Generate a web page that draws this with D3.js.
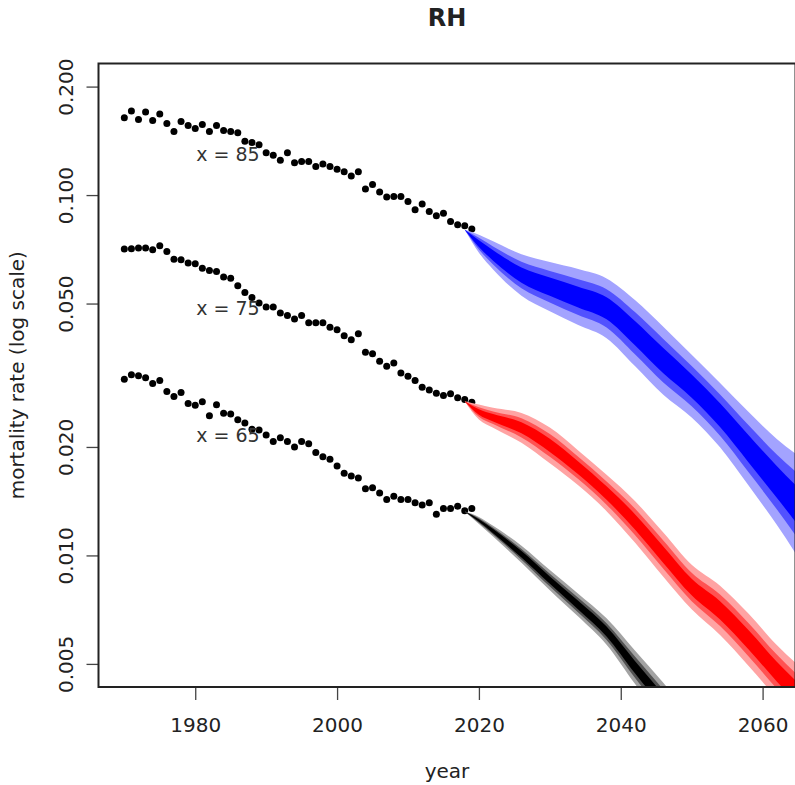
<!DOCTYPE html>
<html>
<head>
<meta charset="utf-8">
<title>RH</title>
<script src="https://cdn.jsdelivr.net/npm/d3@7"></script>
<style>
  body { margin: 0; background: #fff; }
  text { font-family: "DejaVu Sans", sans-serif; fill: #222; }
  .tick line { stroke: #444; stroke-width: 1.3px; }
</style>
</head>
<body>
<div id="chart"></div>
<script>
// observed years 1970..2019
var years = d3.range(1970, 2020);

var rate65 = [0.0308, 0.0317, 0.0315, 0.0311, 0.0300, 0.0306, 0.0285, 0.0276, 0.0283, 0.0264,
  0.0261, 0.0267, 0.0244, 0.0262, 0.0248, 0.0247, 0.0238, 0.0233, 0.0224, 0.0223,
  0.0216, 0.0207, 0.0212, 0.0207, 0.0200, 0.0207, 0.0204, 0.0193, 0.0188, 0.0185,
  0.0177, 0.0169, 0.0166, 0.0164, 0.0153, 0.0154, 0.0149, 0.0143, 0.0146, 0.0143,
  0.0143, 0.0140, 0.0138, 0.0140, 0.0130, 0.0135, 0.0135, 0.0137, 0.0133, 0.0135];

var rate75 = [0.0708, 0.0710, 0.0713, 0.0713, 0.0705, 0.0723, 0.0697, 0.0664, 0.0661, 0.0648,
  0.0645, 0.0627, 0.0618, 0.0614, 0.0592, 0.0588, 0.0560, 0.0537, 0.0520, 0.0502,
  0.0489, 0.0489, 0.0471, 0.0463, 0.0453, 0.0463, 0.0442, 0.0442, 0.0442, 0.0430,
  0.0423, 0.0407, 0.0397, 0.0412, 0.0366, 0.0363, 0.0346, 0.0335, 0.0342, 0.0321,
  0.0314, 0.0306, 0.0293, 0.0288, 0.0282, 0.0278, 0.0281, 0.0274, 0.0271, 0.0266];

var rate85 = [0.164, 0.171, 0.162, 0.170, 0.161, 0.168, 0.158, 0.150, 0.160, 0.156,
  0.153, 0.157, 0.150, 0.156, 0.151, 0.150, 0.149, 0.141, 0.140, 0.138,
  0.131, 0.129, 0.125, 0.131, 0.123, 0.124, 0.124, 0.120, 0.122, 0.120,
  0.118, 0.116, 0.113, 0.116, 0.104, 0.107, 0.102, 0.0987, 0.0991, 0.0991,
  0.0960, 0.0910, 0.0944, 0.0901, 0.0876, 0.0891, 0.0845, 0.0827, 0.0822, 0.0805];

// forecast fans: median and multiplicative spread of the 95/80/50% bands
var fanYears = [2018, 2020, 2022, 2026, 2030, 2034, 2038, 2042, 2046, 2050, 2054, 2058, 2062, 2066];

var blueMid = [0.0801, 0.0733, 0.0680, 0.0600, 0.0557, 0.0521, 0.0485, 0.0414, 0.0347, 0.0295, 0.0245, 0.0198, 0.0160, 0.0130];
var blue95 = [1, 1.059, 1.094, 1.141, 1.170, 1.196, 1.210, 1.235, 1.243, 1.222, 1.228, 1.265, 1.316, 1.412];
var blue80 = [1, 1.038, 1.059, 1.088, 1.106, 1.121, 1.130, 1.144, 1.149, 1.137, 1.141, 1.162, 1.192, 1.247];
var blue50 = [1, 1.022, 1.034, 1.050, 1.060, 1.068, 1.073, 1.081, 1.084, 1.077, 1.079, 1.091, 1.107, 1.136];

var redMid = [0.0268, 0.0250, 0.0241, 0.0226, 0.0202, 0.0175, 0.0149, 0.0124, 0.01005, 0.00817, 0.00704, 0.00584, 0.00476, 0.00396];
var red95 = [1, 1.049, 1.066, 1.100, 1.121, 1.118, 1.123, 1.142, 1.152, 1.153, 1.171, 1.181, 1.185, 1.204];
var red80 = [1, 1.031, 1.041, 1.063, 1.075, 1.074, 1.077, 1.089, 1.095, 1.095, 1.106, 1.112, 1.115, 1.126];
var red50 = [1, 1.018, 1.024, 1.036, 1.043, 1.042, 1.044, 1.050, 1.054, 1.054, 1.060, 1.063, 1.065, 1.071];

var blackYears = [2018, 2020, 2022, 2026, 2030, 2034, 2038, 2042, 2046, 2050];
var blackMid = [0.01323, 0.0125, 0.01168, 0.01007, 0.00854, 0.00728, 0.00615, 0.00490, 0.00393, 0.00314];
var black95 = [1, 1.023, 1.035, 1.056, 1.066, 1.076, 1.088, 1.112, 1.128, 1.140];
var black80 = [1, 1.014, 1.022, 1.035, 1.042, 1.048, 1.055, 1.070, 1.080, 1.088];
var black50 = [1, 1.008, 1.013, 1.021, 1.024, 1.028, 1.032, 1.040, 1.046, 1.050];

var ageLabels = ["x = 65", "x = 75", "x = 85"];
var ageLabelY = [0.0215, 0.0487, 0.130];
var xTicks = [1980, 2000, 2020, 2040, 2060];
var yTicks = [0.005, 0.010, 0.020, 0.050, 0.100, 0.200];

var width = 795, height = 785;
var pL = 98.5, pR = 795.5, pT = 63.5, pB = 687;

var svg = d3.select("#chart").append("svg")
  .attr("width", width)
  .attr("height", height);

var x = d3.scaleLinear().domain([1966.36, 2064.64]).range([pL, pR]);
var y = d3.scaleLog().domain([0.004314, 0.2318]).range([pB, pT]);

svg.append("clipPath").attr("id", "plotclip")
  .append("rect")
  .attr("x", pL).attr("y", pT)
  .attr("width", pR - pL).attr("height", pB - pT);

var plot = svg.append("g").attr("clip-path", "url(#plotclip)");

// observed points
[rate65, rate75, rate85].forEach(function(s) {
  plot.selectAll(null)
    .data(s)
    .enter().append("circle")
    .attr("cx", function(d, i) { return x(years[i]); })
    .attr("cy", function(d) { return y(d); })
    .attr("r", 3.5)
    .attr("fill", "#000");
});

// fans
var fans = [
  {yrs: blackYears, mid: blackMid, bands: [black95, black80, black50], cols: ["#a3a3a3", "#525252", "#000000"]},
  {yrs: fanYears, mid: redMid, bands: [red95, red80, red50], cols: ["#ffa3a3", "#ff5252", "#ff0000"]},
  {yrs: fanYears, mid: blueMid, bands: [blue95, blue80, blue50], cols: ["#a3a3ff", "#5252ff", "#0000ff"]}
];

fans.forEach(function(f) {
  f.bands.forEach(function(b, k) {
    var area = d3.area()
      .curve(d3.curveMonotoneX)
      .x(function(d, i) { return x(f.yrs[i]); })
      .y0(function(d, i) { return y(f.mid[i] / b[i]); })
      .y1(function(d, i) { return y(f.mid[i] * b[i]); });
    plot.append("path")
      .attr("d", area(f.mid))
      .attr("fill", f.cols[k]);
  });
});

// age labels
svg.selectAll(".agelab")
  .data(ageLabels)
  .enter().append("text")
  .attr("class", "agelab")
  .attr("x", x(1980) + 1)
  .attr("y", function(d, i) { return y(ageLabelY[i]); })
  .attr("dy", "0.36em")
  .style("font-size", "19px")
  .style("fill", "#333")
  .text(function(d) { return d; });

// axes
var gx = svg.append("g")
  .attr("transform", "translate(0," + pB + ")")
  .call(d3.axisBottom(x).tickValues(xTicks).tickFormat(d3.format("d")).tickSize(13));
gx.select(".domain").remove();
gx.selectAll(".tick text")
  .attr("y", 45).attr("dy", 0)
  .style("font-size", "20px");

var gy = svg.append("g")
  .attr("transform", "translate(" + pL + ",0)")
  .call(d3.axisLeft(y).tickValues(yTicks).tickFormat(d3.format(".3f")).tickSize(12));
gy.select(".domain").remove();
gy.selectAll(".tick text")
  .attr("x", 0).attr("y", -25.5).attr("dy", 0)
  .attr("text-anchor", "middle")
  .attr("transform", "rotate(-90)")
  .style("font-size", "20px");

// box
svg.append("rect")
  .attr("x", pL).attr("y", pT)
  .attr("width", pR - pL).attr("height", pB - pT)
  .attr("fill", "none")
  .attr("stroke", "#222")
  .attr("stroke-width", 2);

// titles
svg.append("text")
  .attr("x", (pL + pR) / 2).attr("y", 26)
  .attr("text-anchor", "middle")
  .style("font-size", "24px").style("font-weight", "bold")
  .text("RH");

svg.append("text")
  .attr("x", (pL + pR) / 2).attr("y", 778)
  .attr("text-anchor", "middle")
  .style("font-size", "20px")
  .text("year");

svg.append("text")
  .attr("transform", "translate(23.5," + (pT + pB) / 2 + ") rotate(-90)")
  .attr("text-anchor", "middle")
  .style("font-size", "20px")
  .text("mortality rate (log scale)");
</script>
</body>
</html>
